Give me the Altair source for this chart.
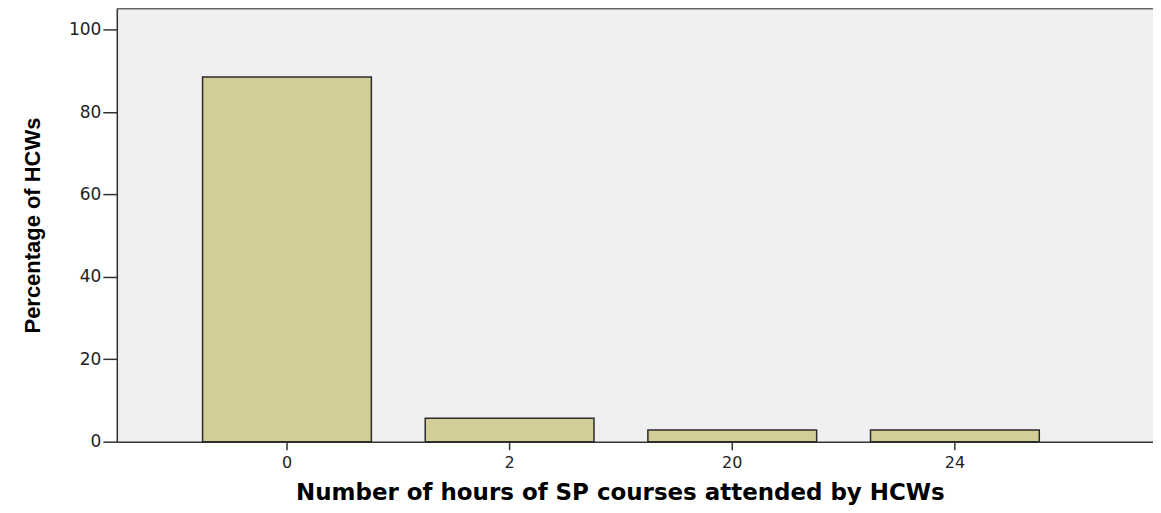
import altair as alt
import pandas as pd

hours = ["0", "2", "20", "24"]
percent = [88.57, 5.71, 2.86, 2.86]
y_ticks = [0, 20, 40, 60, 80, 100]
y_max = 105.2

df = pd.DataFrame({"hours": hours, "percent": percent})

base = alt.Chart(df)

bars = base.mark_bar(fill="#D3CE97", stroke="#2b2b2b", strokeWidth=1.5).encode(
    x=alt.X(
        "hours:N",
        sort=hours,
        scale=alt.Scale(paddingInner=0.242, paddingOuter=0.448, align=0.43),
        axis=alt.Axis(
            title="Number of hours of SP courses attended by HCWs",
            labelAngle=0,
            labelFont="DejaVu Sans",
            labelFontSize=16,
            labelColor="#222222",
            labelPadding=5,
            tickSize=8,
            tickColor="#333333",
            tickWidth=1.5,
            domainColor="#333333",
            domainWidth=1.5,
            titleFont="DejaVu Sans",
            titleFontSize=23,
            titleFontWeight="bold",
            titleColor="#000000",
            titlePadding=11,
            titleX=504,
            grid=False,
        ),
    ),
    y=alt.Y(
        "percent:Q",
        scale=alt.Scale(domain=[0, y_max], nice=False, zero=True),
        axis=alt.Axis(
            title="Percentage of HCWs",
            values=y_ticks,
            labelFont="DejaVu Sans",
            labelFontSize=17,
            labelColor="#222222",
            labelPadding=2,
            tickSize=14,
            tickColor="#333333",
            tickWidth=1.5,
            domainColor="#333333",
            domainWidth=1.5,
            titleFont="Liberation Sans",
            titleFontSize=22,
            titleFontWeight="bold",
            titleColor="#000000",
            titlePadding=24,
            grid=False,
        ),
    ),
)

top_border = alt.Chart(pd.DataFrame({"top": [y_max]})).mark_rule(
    color="#666666", strokeWidth=2
).encode(y=alt.Y("top:Q"))

chart = (
    alt.layer(bars, top_border)
    .properties(
        width=1038,
        height=434,
        autosize=alt.AutoSizeParams(type="none"),
        padding={"left": 109, "top": 0, "right": 0, "bottom": 70},
        background="#ffffff",
    )
    .configure_view(fill="#F0F0F0", strokeWidth=0)
)

chart.save("out.html", embed_options={"renderer": "svg", "actions": False})
